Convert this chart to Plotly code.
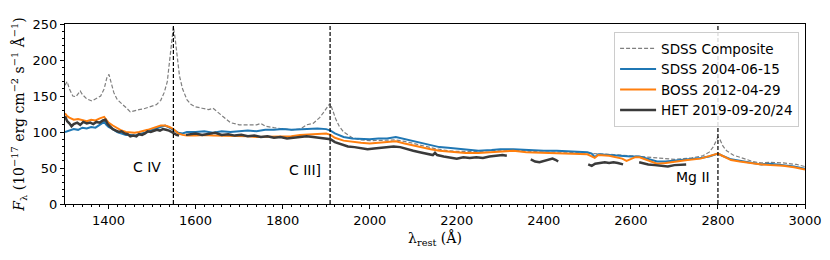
import plotly.graph_objects as go

# ---- data ----
comp_wl = [1300,1305,1310,1318,1325,1335,1340,1350,1362,1372,1382,1390,1396,1401,1406,1412,1420,1430,1440,1450,1460,1470,1480,1490,1500,1510,1520,1528,1535,1540,1545,1549,1553,1558,1563,1570,1580,1590,1600,1615,1630,1640,1650,1660,1670,1680,1700,1720,1740,1750,1760,1780,1800,1820,1840,1855,1870,1885,1895,1904,1909,1915,1922,1930,1940,1960,1980,2000,2030,2060,2080,2100,2130,2150,2180,2200,2250,2300,2350,2400,2450,2500,2550,2600,2650,2700,2740,2765,2780,2790,2796,2800,2805,2812,2820,2835,2860,2880,2900,2920,2950,2980,3000]
comp_fl = [165,170,160,150,149,157,152,146,143,146,150,160,175,180,170,155,145,140,134,128,130,131,132,134,135,138,144,155,170,195,225,246,230,200,178,160,145,138,135,133,131,133,128,124,118,113,110,110,110,112,108,106,104,103,104,110,112,120,128,136,140,130,118,108,100,92,89,88,88,89,87,84,80,77,74,73,73,75,74,72,72,71,69,67,64,62,64,67,72,80,88,93,89,80,74,68,63,59,57,58,57,55,52]

sdss_wl = [1300,1310,1320,1330,1340,1350,1360,1370,1380,1385,1390,1395,1400,1410,1420,1430,1440,1450,1460,1470,1480,1490,1500,1510,1520,1530,1540,1549,1560,1570,1580,1600,1620,1640,1660,1680,1700,1720,1740,1760,1780,1800,1820,1840,1860,1880,1900,1910,1920,1940,1960,1980,2000,2020,2040,2060,2080,2100,2120,2140,2160,2180,2200,2220,2250,2280,2300,2330,2360,2400,2430,2460,2500,2510,2517,2525,2550,2580,2600,2620,2640,2660,2680,2700,2730,2760,2780,2795,2800,2810,2830,2850,2880,2900,2920,2950,2975,3000]
sdss_fl = [100,102,104,103,106,105,107,106,110,113,114,110,107,104,100,98,96,96,95,97,98,100,103,105,108,109,106,103,99,98,100,100,101,99,101,100,101,102,101,103,103,104,103,104,104,105,104,102,98,93,91,90,90,91,91,93,90,87,84,81,79,78,77,76,74,75,76,76,75,74,74,73,72,70,65,69,68,66,66,66,62,59,59,60,62,64,66,69,70,67,62,60,57,55,56,54,52,49]

boss_wl = [1300,1305,1310,1320,1330,1340,1350,1360,1370,1380,1390,1395,1400,1410,1420,1430,1440,1450,1460,1470,1480,1490,1500,1510,1520,1530,1540,1549,1560,1570,1580,1600,1620,1640,1660,1680,1700,1720,1740,1760,1780,1800,1820,1840,1860,1880,1900,1910,1920,1940,1960,1980,2000,2020,2040,2060,2080,2100,2120,2140,2160,2180,2200,2220,2250,2280,2300,2330,2360,2400,2430,2460,2500,2517,2525,2550,2580,2590,2600,2610,2620,2640,2660,2680,2700,2730,2760,2780,2795,2800,2810,2830,2850,2880,2900,2920,2950,2975,3000]
boss_fl = [126,122,120,117,118,116,115,117,116,119,121,117,113,109,105,102,100,99,99,100,101,103,105,107,109,109,107,104,98,96,95,95,96,95,95,94,94,94,93,93,93,93,94,96,97,98,98,96,92,88,86,85,84,85,86,87,84,81,78,76,74,73,72,71,71,72,73,74,72,71,71,70,69,64,68,67,63,60,62,65,65,60,56,57,59,61,63,66,69,70,67,61,59,56,55,54,53,51,48]

het_wl = [1300,1305,1310,1315,1320,1328,1335,1342,1350,1358,1365,1372,1380,1387,1393,1398,1403,1410,1417,1424,1430,1437,1444,1450,1457,1464,1470,1477,1484,1490,1497,1504,1511,1518,1525,1532,1539,1545,1550,1556,1562,
          1570,
          1578,1590,1600,1615,1630,1645,1660,1675,1690,1705,1720,1735,1750,1765,1780,1795,1810,1825,1840,1855,1870,1885,1900,1910,1920,1935,1950,1965,1980,1995,2010,2025,2040,2055,2070,2085,2100,2115,2130,2145,2150,2155,2170,2185,2200,2215,2230,2245,2260,2275,2290,2305,2315,
          2340,
          2370,2380,2390,2400,2410,2420,2428,2433,
          2470,
          2502,2510,2518,2528,2540,2550,2560,2570,2582,
          2600,
          2619,2630,2640,2655,2670,2685,2700,2715,2727]
het_fl = [122,115,112,108,111,113,110,114,112,113,111,114,113,116,117,111,108,104,102,100,101,98,97,94,95,94,97,96,98,101,100,102,103,102,104,103,102,100,98,96,95,
          None,
          96,97,98,96,97,99,96,97,95,96,94,95,93,94,92,93,91,92,93,94,93,92,91,90,86,83,80,79,77,76,77,78,78,80,79,76,74,72,70,68,71,68,66,65,63,65,64,65,64,66,67,68,67,
          None,
          62,59,58,60,61,63,61,59,
          None,
          55,53,56,57,58,57,58,57,55,
          None,
          58,56,55,54,53,52,54,55,55]

line_wl = [1549, 1909, 2800]
line_names = ["C IV", "C III]", "Mg II"]
label_x = [1488, 1851, 2743]
label_y = [51, 47, 37]

fig = go.Figure()
fig.add_trace(go.Scatter(x=comp_wl, y=comp_fl, mode="lines", name="SDSS Composite",
                         line=dict(color="#7f7f7f", width=1.2, dash="4px,2px")))
fig.add_trace(go.Scatter(x=sdss_wl, y=sdss_fl, mode="lines", name="SDSS 2004-06-15",
                         line=dict(color="#1f77b4", width=2)))
fig.add_trace(go.Scatter(x=boss_wl, y=boss_fl, mode="lines", name="BOSS 2012-04-29",
                         line=dict(color="#ff7f0e", width=2)))
fig.add_trace(go.Scatter(x=het_wl, y=het_fl, mode="lines", name="HET 2019-09-20/24",
                         line=dict(color="#3a3a3a", width=2.5), connectgaps=False))

for wl in line_wl:
    fig.add_shape(type="line", x0=wl, x1=wl, y0=0, y1=1, xref="x", yref="paper",
                  line=dict(color="black", width=1.2, dash="4px,2px"))
for name, lx, ly in zip(line_names, label_x, label_y):
    fig.add_annotation(x=lx, y=ly, text=name, showarrow=False,
                       font=dict(family="DejaVu Sans", size=14, color="black"))

fig.update_layout(
    width=822, height=252,
    margin=dict(l=57, r=25, t=16, b=56, autoexpand=False),
    plot_bgcolor="white", paper_bgcolor="white",
    font=dict(family="DejaVu Sans", size=13, color="black"),
    showlegend=True,
    legend=dict(x=0.742, y=0.955, xanchor="left", yanchor="top",
                bgcolor="rgba(255,255,255,0.85)", bordercolor="#cccccc", borderwidth=1,
                font=dict(family="DejaVu Sans", size=13.5), tracegroupgap=0,
                itemwidth=36),
)
fig.update_xaxes(range=[1300, 3000], tickvals=[1400,1600,1800,2000,2200,2400,2600,2800,3000],
                 automargin=False,
                 showgrid=False, zeroline=False, showline=True, linecolor="black", linewidth=1,
                 mirror=True, ticks="outside", ticklen=4, tickcolor="black",
                 minor=dict(dtick=20, ticks="outside", ticklen=2, tickcolor="black"),
                 title=dict(text="λ<sub>rest</sub> (Å)", font=dict(family="DejaVu Serif", size=14), standoff=6))
fig.update_yaxes(range=[0, 250], tickvals=[0,50,100,150,200,250],
                 automargin=False,
                 showgrid=False, zeroline=False, showline=True, linecolor="black", linewidth=1,
                 mirror=True, ticks="outside", ticklen=4, tickcolor="black",
                 minor=dict(dtick=10, ticks="outside", ticklen=2, tickcolor="black"),
                 title=dict(text="<i>F</i><sub>λ</sub> (10<sup>−17</sup> erg cm<sup>−2</sup> s<sup>−1</sup> Å<sup>−1</sup>)",
                            font=dict(family="DejaVu Serif", size=14), standoff=4))

fig.write_html("out.html")
